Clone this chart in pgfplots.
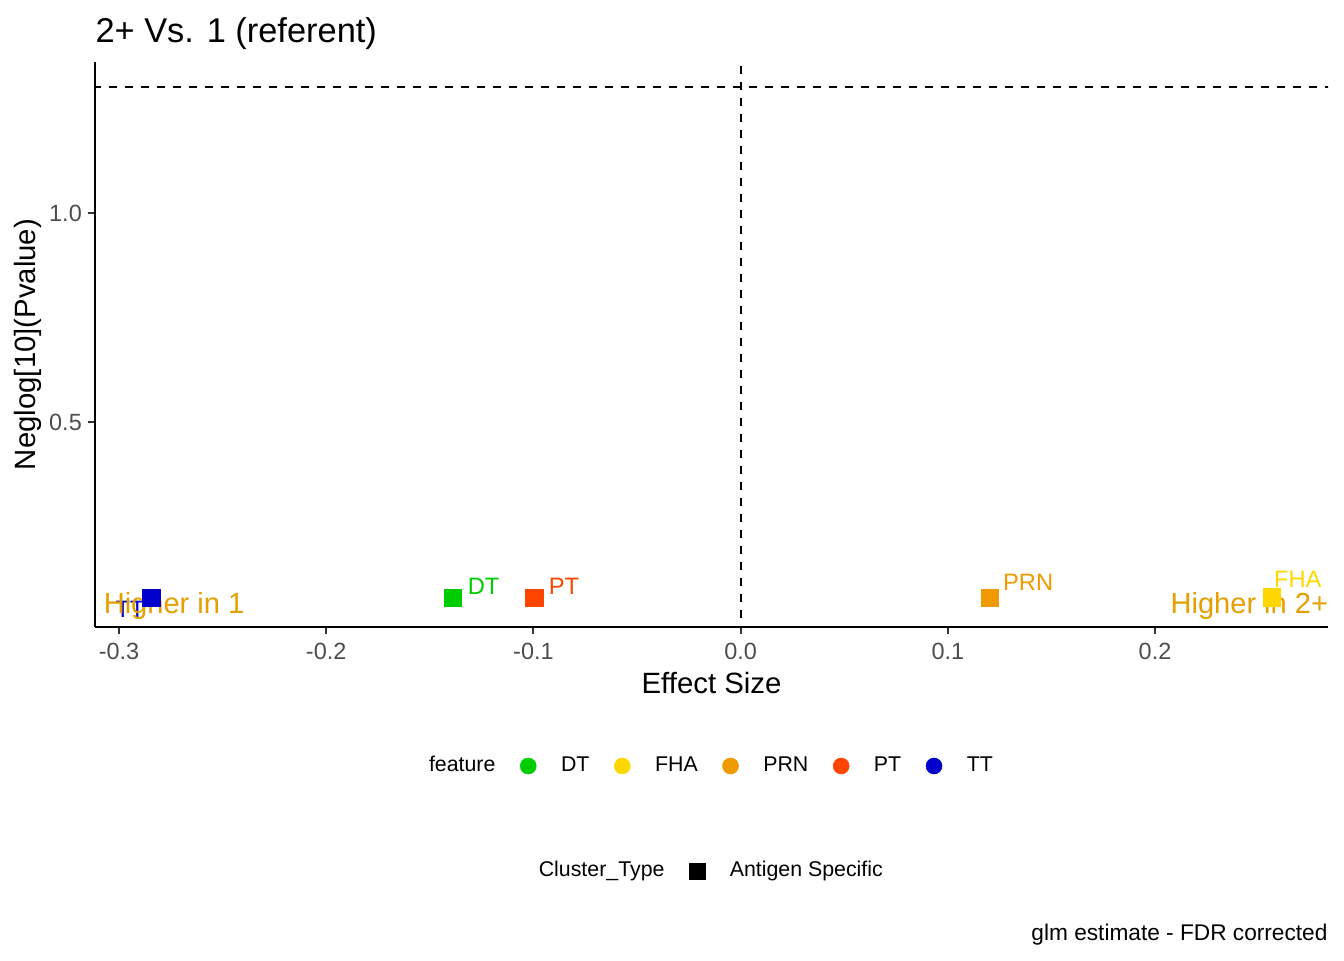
\documentclass[border=0pt]{standalone}
\usepackage{pgfplots}
\pgfplotsset{compat=1.18}
\usepackage{pgfplotstable}
\usepackage{fontspec}
\setmainfont{Liberation Sans}
\definecolor{cDT}{HTML}{00CD00}
\definecolor{cFHA}{HTML}{FFD700}
\definecolor{cPRN}{HTML}{EE9A00}
\definecolor{cPT}{HTML}{FF4500}
\definecolor{cTT}{HTML}{0000CD}
\definecolor{cAnn}{HTML}{E69F00}
\definecolor{tickc}{HTML}{333333}
\definecolor{ticklab}{HTML}{4D4D4D}
\pgfplotstableread{
x y
-0.2845 0.080
}\dTT
\pgfplotstableread{
x y
-0.1390 0.080
}\dDT
\pgfplotstableread{
x y
-0.0995 0.080
}\dPT
\pgfplotstableread{
x y
0.1202 0.080
}\dPRN
\pgfplotstableread{
x y
0.2564 0.082
}\dFHA
\begin{document}
\begin{tikzpicture}
\path[use as bounding box] (-35.625pt,-124.875pt) rectangle (468.375pt,235.125pt);
\begin{axis}[
  name=main,
  scale only axis,
  width=462.375pt, height=211.875pt,
  xmin=-0.31158, xmax=0.28349,
  ymin=0.0105, ymax=1.3612,
  axis x line*=bottom, axis y line*=left,
  axis line style={line width=0.75pt, black},
  xtick={-0.3,-0.2,-0.1,0,0.1,0.2},
  ytick={0.5,1.0},
  tick align=outside,
  major tick length=2.75pt,
  tick style={line width=0.75pt, tickc},
  /pgf/number format/.cd, fixed, fixed zerofill, precision=1, assume math mode=true,
  /pgfplots/.cd,
  ticklabel style={font=\fontsize{8.8}{10}\selectfont, text=ticklab, inner sep=0pt},
  xticklabel style={anchor=north, yshift=-3.2pt},
  yticklabel style={anchor=east, xshift=-2.0pt},
  title={2+ Vs. 1 (referent)},
  title style={at={(axis description cs:0,1)}, anchor=base west, yshift=1.2pt, inner sep=0pt, font=\fontsize{12.9}{15}\selectfont},
  xlabel={Effect Size},
  xlabel style={at={(axis description cs:0.5,0)}, anchor=base, yshift=-24.9pt, inner sep=0pt, font=\fontsize{11}{13}\selectfont},
  ylabel={Neglog[10](Pvalue)},
  ylabel style={at={(axis description cs:-0.0480,0.5)}, rotate=0, anchor=base, inner sep=0pt, font=\fontsize{11}{13}\selectfont},
  legend style={at={(0.4895,-0.246)}, anchor=center, draw=none, fill=none, inner sep=0pt,
    legend columns=-1, font=\fontsize{8}{9.5}\selectfont,
    nodes={inner sep=0pt},
    /tikz/every odd column/.append style={column sep=9.3pt},
    /tikz/every even column/.append style={column sep=9.3pt}},
  legend cell align=left,
]
\addplot[dashed, line width=0.75pt, black, dash pattern=on 3pt off 3pt, forget plot] coordinates {(-1,1.30103) (1,1.30103)};
\addplot[dashed, line width=0.75pt, black, dash pattern=on 3pt off 3pt, forget plot] coordinates {(0,-1) (0,2)};
\addplot[cTT, only marks, mark=square*, mark size=3.3pt, mark options={line width=0.2pt}, forget plot] table[x=x,y=y] {\dTT};
\addplot[cDT, only marks, mark=square*, mark size=3.3pt, mark options={line width=0.2pt}, forget plot] table[x=x,y=y] {\dDT};
\addplot[cPT, only marks, mark=square*, mark size=3.3pt, mark options={line width=0.2pt}, forget plot] table[x=x,y=y] {\dPT};
\addplot[cPRN, only marks, mark=square*, mark size=3.3pt, mark options={line width=0.2pt}, forget plot] table[x=x,y=y] {\dPRN};
\addplot[cFHA, only marks, mark=square*, mark size=3.3pt, mark options={line width=0.2pt}, forget plot] table[x=x,y=y] {\dFHA};
% point labels
\node[anchor=base west, inner sep=0pt, text=cTT, font=\fontsize{8.9}{10}\selectfont] at (axis cs:-0.3019,0.0335) {TT};
\node[anchor=base west, inner sep=0pt, text=cDT, font=\fontsize{8.9}{10}\selectfont] at (axis cs:-0.1319,0.0878) {DT};
\node[anchor=base west, inner sep=0pt, text=cPT, font=\fontsize{8.9}{10}\selectfont] at (axis cs:-0.0928,0.0878) {PT};
\node[anchor=base west, inner sep=0pt, text=cPRN, font=\fontsize{8.9}{10}\selectfont] at (axis cs:0.1264,0.098) {PRN};
\node[anchor=base west, inner sep=0pt, text=cFHA, font=\fontsize{8.9}{10}\selectfont] at (axis cs:0.2572,0.106) {FHA};
% annotations
\node[anchor=base west, inner sep=0pt, text=cAnn, font=\fontsize{10.9}{13}\selectfont] at (axis cs:-0.3076,0.0423) {Higher in 1};
\node[anchor=base east, inner sep=0pt, text=cAnn, font=\fontsize{10.9}{13}\selectfont] at (axis cs:0.2838,0.0423) {Higher in 2+};
% legend
\addlegendimage{empty legend}
\addlegendentry{feature}
\addlegendimage{cDT, only marks, mark=*, mark size=3.0pt, mark options={line width=0.2pt}}
\addlegendentry{DT}
\addlegendimage{cFHA, only marks, mark=*, mark size=3.0pt, mark options={line width=0.2pt}}
\addlegendentry{FHA}
\addlegendimage{cPRN, only marks, mark=*, mark size=3.0pt, mark options={line width=0.2pt}}
\addlegendentry{PRN}
\addlegendimage{cPT, only marks, mark=*, mark size=3.0pt, mark options={line width=0.2pt}}
\addlegendentry{PT}
\addlegendimage{cTT, only marks, mark=*, mark size=3.0pt, mark options={line width=0.2pt}}
\addlegendentry{TT}
\end{axis}
\node[anchor=base east, inner sep=0pt, font=\fontsize{8.5}{10}\selectfont] at ([yshift=-117.4pt]main.south east) {glm estimate - FDR corrected};
\begin{axis}[
  scale only axis, hide axis,
  width=462.375pt, height=211.875pt,
  xmin=0, xmax=1, ymin=0, ymax=1,
  legend style={at={(0.4895,-0.4319)}, anchor=center, draw=none, fill=none, inner sep=0pt,
    legend columns=-1, font=\fontsize{8}{9.5}\selectfont,
    nodes={inner sep=0pt},
    /tikz/every odd column/.append style={column sep=9.2pt},
    /tikz/every even column/.append style={column sep=9.4pt}},
  legend cell align=left,
]
\addlegendimage{empty legend}
\addlegendentry{Cluster\_Type}
\addlegendimage{black, only marks, mark=square*, mark size=2.95pt, mark options={line width=0.2pt}}
\addlegendentry{Antigen Specific}
\end{axis}
\end{tikzpicture}
\end{document}
